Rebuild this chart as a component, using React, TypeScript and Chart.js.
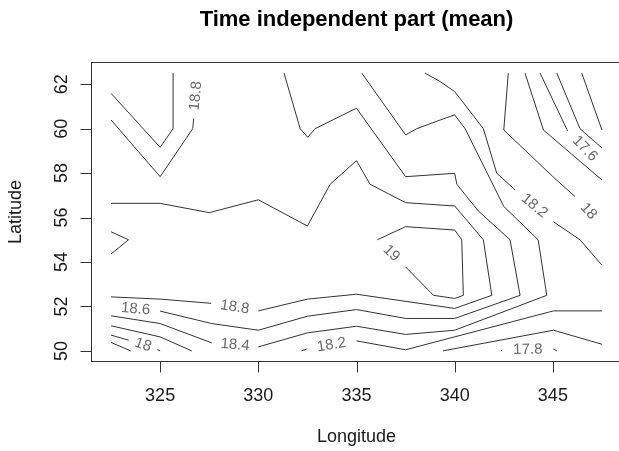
import React, { useEffect, useRef } from 'react';
import { Chart, registerables } from 'chart.js';

Chart.register(...registerables);

type Pt = [number, number] | null;

const titleText = 'Time independent part (mean)';
const xTitle = 'Longitude';
const yTitle = 'Latitude';
const xTicks = [325, 330, 335, 340, 345];
const yTicks = [50, 52, 54, 56, 58, 60, 62];
const xRange = [321.5, 348.5];
const yRange = [49.5, 63];

// contour lines (longitude, latitude); null = gap where the level label sits
const level19Loop: Pt[] = [[336.06, 55.0], [337.5, 55.59], [340, 55.44], [340.36, 55.0], [340.44, 52.5], [340, 52.36], [338.92, 52.5], [337.5, 53.78], null, [336.06, 55.0]];
const level19Edge: Pt[] = [[322.5, 55.36], [323.39, 55.0], [322.5, 54.36]];
const level19Corner: Pt[] = [[322.5, 61.59], [325, 59.16], [325.66, 60.0], [325.66, 62.5]];
const level188Corner: Pt[] = [[322.5, 60.39], [325, 57.84], [326.66, 60.0], [326.71, 60.45], null, [326.93, 62.5]];
const level188Main: Pt[] = [[322.5, 56.64], [325, 56.64], [327.5, 56.22], [330, 56.8], [332.5, 55.62], [333.66, 57.5], [335, 58.56], [335.69, 57.5], [337.5, 56.67], [340, 56.52], [341.46, 55.0], [341.89, 52.5], [340, 51.91], [335, 52.55], [332.5, 52.33], [330, 51.8], null, [327.6, 52.14], [325, 52.33], [322.5, 52.43]];
const level186: Pt[] = [[331.31, 62.5], [332.13, 60.0], [332.52, 59.61], [332.89, 60.0], [335, 60.92], [337.5, 57.84], [340, 57.99], [340.11, 57.5], [341.2, 56.3], [342.82, 55.0], [343.33, 52.5], [340, 51.46], [337.5, 51.46], [335, 51.86], [332.5, 51.56], [330, 50.93], [327.63, 51.23], [325, 51.79], null, [322.5, 51.97]];
const level184: Pt[] = [[335.27, 62.5], [337.5, 59.72], [338.07, 60.0], [339.26, 60.39], [340, 60.62], [340.53, 60.0], [342.5, 56.5], [344.25, 55.0], [344.69, 52.5], [340, 50.93], [337.5, 50.74], [335, 51.11], [332.5, 50.81], [330, 50.18], null, [327.63, 50.36], [325, 51.23], [322.5, 51.58]];
const level182Top: Pt[] = [[338.49, 62.5], [339.26, 62.12], [340, 61.67], [341.46, 60.0], [342.14, 58.0], [343.08, 57.24], null, [345.03, 55.81], [346.38, 55.0], [347.5, 53.86]];
const level182Left: Pt[] = [[322.5, 51.13], [325, 50.63], [326.61, 50.0]];
const level182Bottom: Pt[] = [[332.2, 50.0], [332.46, 50.08], null, [335, 50.45], [337.5, 50.05], [345.03, 51.8], [347.5, 51.8]];
const level18Top: Pt[] = [[342.73, 62.5], [342.5, 59.94], [345, 57.84], [346.13, 56.94], null, [347.5, 55.63]];
const level18Left: Pt[] = [[322.5, 50.71], [323.4, 50.48], null, [324.85, 50.06], [325, 50.0]];
const level18Bottom: Pt[] = [[339.4, 50.0], [345.03, 50.93], [347.5, 50.3]];
const level178Top: Pt[] = [[343.58, 62.5], [344.52, 59.94], [347.5, 57.69]];
const level178Left: Pt[] = [[322.5, 50.38], [323.5, 50.0]];
const level178Bottom: Pt[] = [[342.35, 50.0], [342.42, 50.03], null, [345.03, 50.08], [345.2, 50.0]];
const level176: Pt[] = [[344.35, 62.5], [345.75, 59.9], null, [347.5, 58.3]];
const level174: Pt[] = [[345.2, 62.5], [346.38, 60.0], [347.5, 59.13]];
const level172: Pt[] = [[346.47, 62.5], [347.5, 59.94]];

const contours: { level: string; points: Pt[] }[] = [
  { level: '19', points: level19Loop },
  { level: '19', points: level19Edge },
  { level: '19', points: level19Corner },
  { level: '18.8', points: level188Corner },
  { level: '18.8', points: level188Main },
  { level: '18.6', points: level186 },
  { level: '18.4', points: level184 },
  { level: '18.2', points: level182Top },
  { level: '18.2', points: level182Left },
  { level: '18.2', points: level182Bottom },
  { level: '18', points: level18Top },
  { level: '18', points: level18Left },
  { level: '18', points: level18Bottom },
  { level: '17.8', points: level178Top },
  { level: '17.8', points: level178Left },
  { level: '17.8', points: level178Bottom },
  { level: '17.6', points: level176 },
  { level: '17.4', points: level174 },
  { level: '17.2', points: level172 },
];

const FONT = "'Liberation Sans', Arial, Helvetica, sans-serif";
const LINE = '#333333';
const CLEAR = 'rgba(0,0,0,0)';
const TICK_LEN = 11;

const decorPlugin = {
  id: 'decor',
  afterDatasetsDraw(chart: any) {
    const { ctx, chartArea, scales } = chart;
    const xs = scales.x;
    const ys = scales.y;
    ctx.save();
    // contour labels, placed in the gaps of the lines
    ctx.font = `15px ${FONT}`;
    ctx.fillStyle = '#6a6a6a';
    ctx.textAlign = 'center';
    ctx.textBaseline = 'middle';
    contours.forEach((c) => {
      c.points.forEach((p, i) => {
        if (p !== null) return;
        const a = c.points[i - 1];
        const b = c.points[i + 1];
        if (!a || !b) return;
        const ax = xs.getPixelForValue(a[0]);
        const ay = ys.getPixelForValue(a[1]);
        const bx = xs.getPixelForValue(b[0]);
        const by = ys.getPixelForValue(b[1]);
        let ang = Math.atan2(by - ay, bx - ax);
        if (ang > Math.PI / 2) ang -= Math.PI;
        if (ang < -Math.PI / 2) ang += Math.PI;
        ctx.save();
        ctx.translate((ax + bx) / 2, (ay + by) / 2);
        ctx.rotate(ang);
        ctx.fillText(c.level, 0, 0);
        ctx.restore();
      });
    });
    // plot box (left, top, bottom; the right side lies beyond the visible page)
    ctx.strokeStyle = LINE;
    ctx.lineWidth = 1;
    const l = Math.round(chartArea.left + 0.1) - 0.5;
    const t = Math.round(chartArea.top) + 0.5;
    const r = Math.round(chartArea.right) - 0.5;
    const btm = Math.round(chartArea.bottom) - 0.5;
    ctx.strokeRect(l, t, r - l, btm - t);
    // tick marks
    ctx.beginPath();
    xTicks.forEach((v) => {
      const x = Math.round(xs.getPixelForValue(v)) + 0.5;
      ctx.moveTo(x, btm);
      ctx.lineTo(x, btm + TICK_LEN);
    });
    yTicks.forEach((v) => {
      const y = Math.round(ys.getPixelForValue(v)) + 0.5;
      ctx.moveTo(l, y);
      ctx.lineTo(l - TICK_LEN, y);
    });
    ctx.stroke();
    // y tick labels (rotated, reading upwards)
    ctx.font = `18px ${FONT}`;
    ctx.fillStyle = '#1a1a1a';
    ctx.textAlign = 'center';
    ctx.textBaseline = 'alphabetic';
    yTicks.forEach((v) => {
      const y = ys.getPixelForValue(v);
      ctx.save();
      ctx.translate(chartArea.left - 24, y);
      ctx.rotate(-Math.PI / 2);
      ctx.fillText(String(v), 0, 0);
      ctx.restore();
    });
    // main title
    ctx.font = `bold 22px ${FONT}`;
    ctx.fillStyle = '#000';
    ctx.fillText(titleText, (chartArea.left + chartArea.right) / 2, 26);
    ctx.restore();
  },
};

export default function App() {
  const ref = useRef<HTMLCanvasElement | null>(null);
  useEffect(() => {
    if (!ref.current) return;
    const chart = new Chart(ref.current, {
      type: 'scatter',
      data: {
        datasets: contours.map((c) => ({
          label: c.level,
          data: c.points.map((p) => (p ? { x: p[0], y: p[1] } : { x: null as any, y: null as any })),
          showLine: true,
          borderColor: LINE,
          borderWidth: 1,
          pointRadius: 0,
          pointHoverRadius: 0,
          tension: 0,
          spanGaps: false,
          fill: false,
        })),
      },
      options: {
        responsive: false,
        animation: false,
        events: [],
        layout: { padding: { left: 0, top: 62, right: 18.4, bottom: 0 } },
        plugins: { legend: { display: false }, tooltip: { enabled: false }, title: { display: false } },
        scales: {
          x: {
            type: 'linear',
            min: xRange[0],
            max: xRange[1],
            afterBuildTicks: (s: any) => {
              s.ticks = xTicks.map((v) => ({ value: v }));
            },
            afterFit: (s: any) => {
              s.height = 89;
              s.paddingLeft = 0;
              s.paddingRight = 0;
            },
            border: { display: false, color: CLEAR },
            grid: { display: true, drawOnChartArea: false, drawTicks: true, tickLength: TICK_LEN, tickColor: CLEAR, color: CLEAR },
            ticks: { font: { family: FONT, size: 18 }, color: '#1a1a1a', padding: 12, maxRotation: 0, autoSkip: false },
            title: { display: true, text: xTitle, font: { family: FONT, size: 18 }, color: '#1a1a1a', padding: { top: 0, bottom: 3 } },
          },
          y: {
            type: 'linear',
            min: yRange[0],
            max: yRange[1],
            afterBuildTicks: (s: any) => {
              s.ticks = yTicks.map((v) => ({ value: v }));
            },
            afterFit: (s: any) => {
              s.width = 91.4;
            },
            border: { display: false, color: CLEAR },
            grid: { display: true, drawOnChartArea: false, drawTicks: true, tickLength: TICK_LEN, tickColor: CLEAR, color: CLEAR },
            ticks: { display: false },
            title: { display: true, text: yTitle, font: { family: FONT, size: 18 }, color: '#1a1a1a', padding: { top: 5, bottom: 0 } },
          },
        },
      },
      plugins: [decorPlugin],
    });
    return () => chart.destroy();
  }, []);
  return (
    <div style={{ position: 'fixed', left: 0, top: 0, width: 619, height: 451, overflow: 'hidden', background: '#fff' }}>
      <canvas ref={ref} width={640} height={451} style={{ display: 'block' }} />
    </div>
  );
}
